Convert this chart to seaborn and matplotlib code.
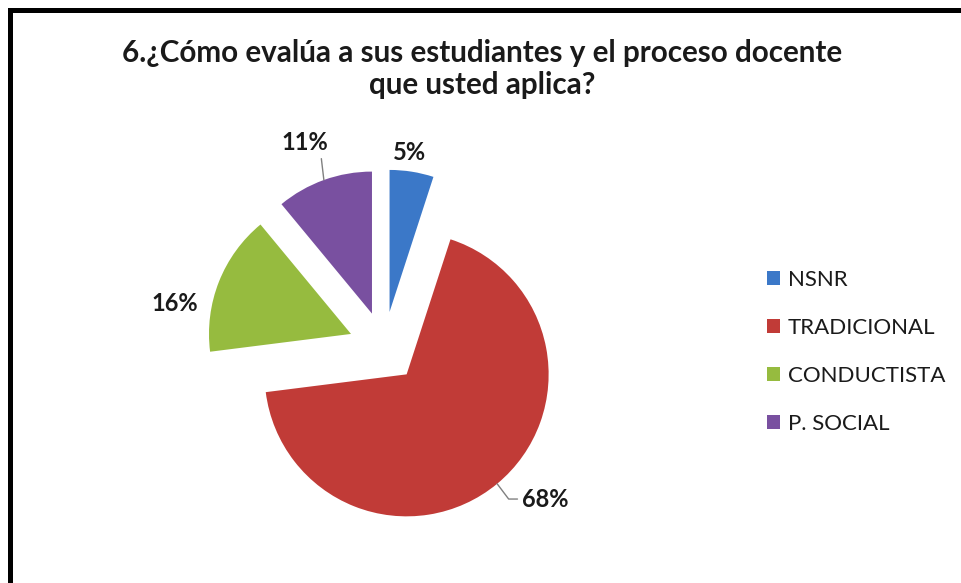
import numpy as np
import matplotlib
matplotlib.use("Agg")
import matplotlib.pyplot as plt
from matplotlib.lines import Line2D
import seaborn as sns

# data
categories = ["NSNR", "TRADICIONAL", "CONDUCTISTA", "P. SOCIAL"]
percentages = [5, 68, 16, 11]
pct_labels = ["5%", "68%", "16%", "11%"]
title = "6.¿Cómo evalúa a sus estudiantes y el proceso docente\nque usted aplica?"

sns.set_theme(style="white")
plt.rcParams["font.family"] = ["Lato", "DejaVu Sans"]

colors = sns.color_palette(["#3b78c8", "#c13b37", "#96bb3f", "#7950a0"])

W, H = 961, 583
fig = plt.figure(figsize=(W / 100, H / 100), dpi=100)
fig.patch.set_facecolor("white")
ax = fig.add_axes([0, 0, 1, 1])

wedges, _ = ax.pie(percentages, colors=colors, startangle=90, counterclock=False,
                   explode=[0.25] * len(percentages), radius=1,
                   wedgeprops=dict(linewidth=0))

# pie centre / radius in pixels
cx, cy, r_px = 384, 347, 142
ax.set_xlim(-cx / r_px, (W - cx) / r_px)
ax.set_ylim(-(H - cy) / r_px, cy / r_px)
ax.set_aspect("equal", adjustable="datalim")
ax.axis("off")

# label offsets from the middle of each arc (points) and leader settings
offsets = [(-1.5, 14), (18, -11), (-32, -16), (-14, 27)]
aligns = ["center", "left", "center", "center"]
leaders = [None,
           dict(arrowstyle="-", color="#808080", lw=1, relpos=(0, 0.5),
                shrinkA=1, shrinkB=0, connectionstyle="angle,angleA=0,angleB=127"),
           None,
           dict(arrowstyle="-", color="#808080", lw=1, relpos=(0.85, 0),
                shrinkA=1, shrinkB=0)]

for w, lab, off, ha, arr in zip(wedges, pct_labels, offsets, aligns, leaders):
    mid = np.deg2rad((w.theta1 + w.theta2) / 2)
    x0, y0 = w.center
    xy = (x0 + w.r * np.cos(mid), y0 + w.r * np.sin(mid))
    ax.annotate(lab, xy=xy, xytext=off, textcoords="offset points",
                ha=ha, va="center", fontsize=17, fontweight="bold",
                color="#1a1a1a", arrowprops=arr)

ax.legend(wedges, categories, loc="upper left",
          bbox_to_anchor=(767 / W, 1 - 270 / H), bbox_transform=fig.transFigure,
          frameon=False, fontsize=16, handlelength=0.6, handleheight=0.6,
          handletextpad=0.33, labelspacing=1.26, borderpad=0, borderaxespad=0,
          labelcolor="#1a1a1a")

fig.text(482 / W, 1 - 69 / H, title, ha="center", va="center", fontsize=21.3,
         fontweight="bold", color="#1a1a1a", linespacing=1.15)

# chart frame (left and top edges visible)
fig.add_artist(Line2D([9.5 / W, 9.5 / W], [0, 1 - 9.5 / H], color="black", lw=3.6,
                      transform=fig.transFigure, solid_capstyle="projecting"))
fig.add_artist(Line2D([9.5 / W, 1], [1 - 9.5 / H, 1 - 9.5 / H], color="black", lw=3.6,
                      transform=fig.transFigure, solid_capstyle="projecting"))

fig.savefig("out.png", dpi=100, facecolor="white")
